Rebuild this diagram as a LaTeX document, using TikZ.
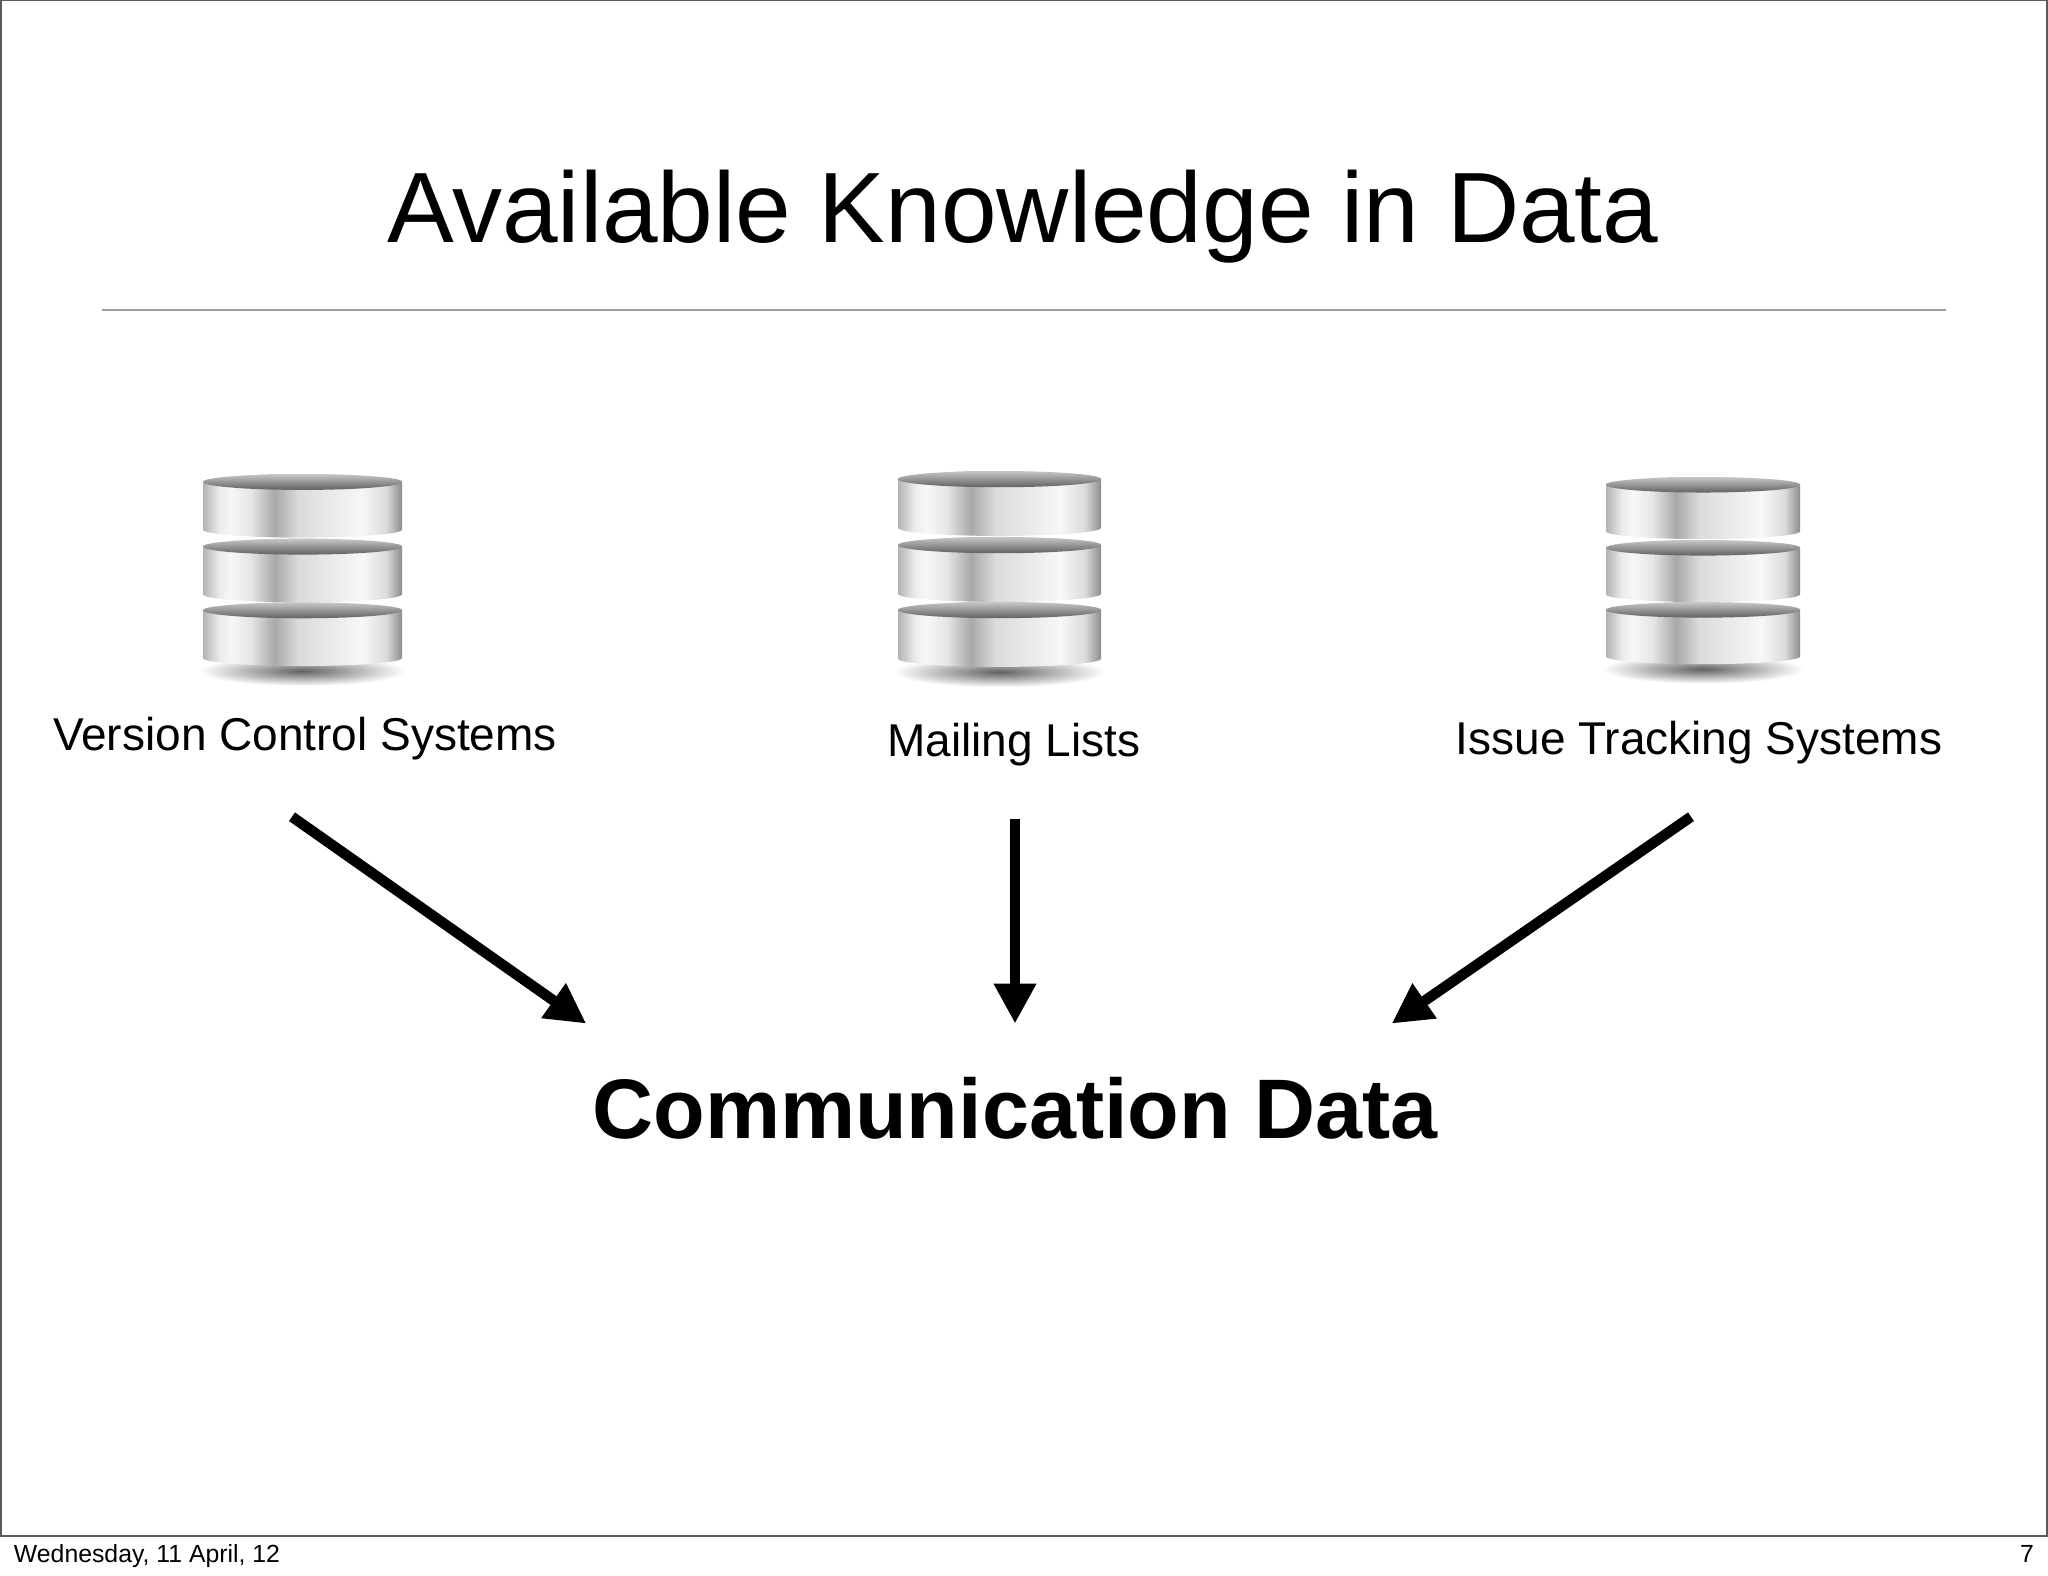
\documentclass[tikz,border=0pt]{standalone}
\usepackage{fontspec}
\setmainfont{Liberation Sans}
\usetikzlibrary{positioning,arrows.meta}
\definecolor{rulegray}{HTML}{9C9C9C}
\definecolor{framegray}{HTML}{5A5A5A}
\pgfdeclarehorizontalshading{diskside}{100bp}{
  color(0bp)=(black!30); color(25bp)=(black!30); color(29bp)=(black!8);
  color(32bp)=(black!3); color(37bp)=(black!10); color(43bp)=(black!34);
  color(49bp)=(black!14); color(65bp)=(black!3); color(71bp)=(black!14);
  color(75bp)=(black!45); color(100bp)=(black!45)}
\tikzset{
  slidetitle/.style = {font=\fontsize{100}{100}\selectfont, anchor=base, inner sep=0pt},
  sourcelabel/.style = {font=\fontsize{46}{46}\selectfont, anchor=base, inner sep=0pt},
  footer/.style = {font=\fontsize{24.8}{24.8}\selectfont, anchor=base, inner sep=0pt},
  bigarrow/.style = {-{Triangle[length=40pt,width=40pt]}, line width=10.5pt},
  dbstack/.pic = {
    \shade[inner color=black!62, outer color=white] (0,198) ellipse (104 and 15);
    \foreach \d in {0,65,129} {
      \shade[shading=diskside] (-100,8+\d) -- (-100,56+\d) arc[start angle=180, end angle=0, x radius=100, y radius=8]
        -- (100,8+\d) arc[start angle=0, end angle=-180, x radius=100, y radius=8] -- cycle;
      \shade[top color=black!22, bottom color=black!62] (0,8+\d) ellipse (100 and 8);
    }
  }
}
\begin{document}
\begin{tikzpicture}[x=1pt, y=-1pt]
  \useasboundingbox (0,0) rectangle (2048,1576);
  \draw[framegray, line width=2pt] (1,0) rectangle (2047,1536);
  \node[slidetitle] (title) at (1023,242) {Available Knowledge in Data};
  \draw[rulegray, line width=1.5pt] (102,310) -- (1946,310);

  \pic[scale=.995] at (302.5,474) {dbstack};
  \pic[scale=1.015] at (999.5,471) {dbstack};
  \pic[scale=.97] at (1703,477) {dbstack};

  \node[sourcelabel] (vcs) at (305,750) {Version Control Systems};
  \node[sourcelabel] (lists) at (1014,756) {Mailing Lists};
  \node[sourcelabel] (issues) at (1699,754) {Issue Tracking Systems};
  \node[anchor=base, inner sep=0pt, font=\fontsize{84.5}{84.5}\selectfont\bfseries] (data) at (1015,1138) {Communication Data};

  \coordinate[below=57pt of vcs.south, xshift=-13pt] (vcsout);
  \coordinate[below=53pt of lists.south, xshift=1pt] (listsout);
  \coordinate[below=53pt of issues.south, xshift=-8pt] (issuesout);
  \coordinate[above=53pt of data.north west, xshift=-6pt] (datavcs);
  \coordinate[above=53pt of data.north] (datalists);
  \coordinate[above=53pt of data.north east, xshift=-46pt] (dataissues);

  \draw[bigarrow] (vcsout) -- (datavcs);
  \draw[bigarrow] (listsout) -- (datalists);
  \draw[bigarrow] (issuesout) -- (dataissues);

  \node[footer] (date) at (147,1562) {Wednesday, 11 April, 12};
  \node[footer] (page) at (2027,1562) {7};
\end{tikzpicture}
\end{document}
